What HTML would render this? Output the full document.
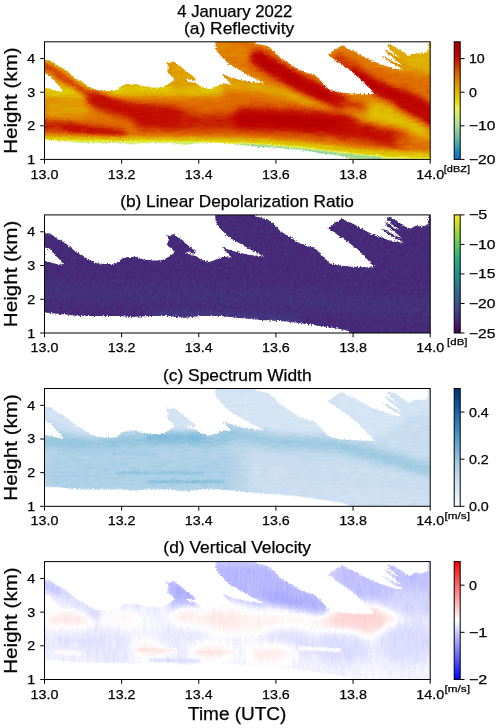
<!DOCTYPE html><html><head><meta charset="utf-8"><style>html,body{margin:0;padding:0;background:#fff;width:500px;height:728px;overflow:hidden}svg{display:block;will-change:transform}text{font-family:"Liberation Sans",sans-serif;fill:#000;stroke:#000;stroke-width:0.25px}</style></head><body>
<svg width="500" height="728" viewBox="0 0 500 728">
<rect width="500" height="728" fill="#fff"/>
<defs><linearGradient id="cbA" x1="0" y1="1" x2="0" y2="0"><stop offset="0.0000" stop-color="rgb(8,112,208)"/><stop offset="0.0312" stop-color="rgb(17,121,199)"/><stop offset="0.0625" stop-color="rgb(30,138,191)"/><stop offset="0.0938" stop-color="rgb(43,154,183)"/><stop offset="0.1250" stop-color="rgb(64,167,174)"/><stop offset="0.1562" stop-color="rgb(85,179,167)"/><stop offset="0.1875" stop-color="rgb(107,190,163)"/><stop offset="0.2188" stop-color="rgb(129,200,160)"/><stop offset="0.2500" stop-color="rgb(146,209,154)"/><stop offset="0.2812" stop-color="rgb(164,218,148)"/><stop offset="0.3125" stop-color="rgb(180,226,140)"/><stop offset="0.3438" stop-color="rgb(193,232,127)"/><stop offset="0.3750" stop-color="rgb(206,239,114)"/><stop offset="0.4062" stop-color="rgb(223,240,97)"/><stop offset="0.4375" stop-color="rgb(239,239,76)"/><stop offset="0.4688" stop-color="rgb(234,227,41)"/><stop offset="0.5000" stop-color="rgb(228,215,18)"/><stop offset="0.5312" stop-color="rgb(224,203,0)"/><stop offset="0.5625" stop-color="rgb(224,188,0)"/><stop offset="0.5938" stop-color="rgb(224,173,0)"/><stop offset="0.6250" stop-color="rgb(224,156,0)"/><stop offset="0.6562" stop-color="rgb(224,139,0)"/><stop offset="0.6875" stop-color="rgb(224,122,0)"/><stop offset="0.7188" stop-color="rgb(222,104,0)"/><stop offset="0.7500" stop-color="rgb(217,84,0)"/><stop offset="0.7812" stop-color="rgb(209,66,0)"/><stop offset="0.8125" stop-color="rgb(202,47,0)"/><stop offset="0.8438" stop-color="rgb(198,25,0)"/><stop offset="0.8750" stop-color="rgb(192,11,0)"/><stop offset="0.9062" stop-color="rgb(186,2,0)"/><stop offset="0.9375" stop-color="rgb(178,0,0)"/><stop offset="0.9688" stop-color="rgb(169,0,0)"/><stop offset="1.0000" stop-color="rgb(160,0,0)"/></linearGradient><filter id="cm0" x="0" y="0" width="500" height="728" filterUnits="userSpaceOnUse" color-interpolation-filters="sRGB"><feTurbulence type="fractalNoise" baseFrequency="0.08 0.5" numOctaves="2" seed="2" result="tn"/><feColorMatrix in="tn" type="matrix" values="1 0 0 0 0 1 0 0 0 0 1 0 0 0 0 0 0 0 0 1" result="tg"/><feComposite in="SourceGraphic" in2="tg" operator="arithmetic" k1="0" k2="1" k3="0.08" k4="-0.04" result="sn"/><feComponentTransfer><feFuncR type="table" tableValues="0.031 0.049 0.067 0.091 0.116 0.140 0.170 0.211 0.252 0.293 0.335 0.378 0.421 0.463 0.505 0.540 0.574 0.608 0.643 0.677 0.706 0.731 0.757 0.782 0.808 0.840 0.876 0.912 0.939 0.927 0.916 0.905 0.896 0.886 0.878 0.878 0.878 0.878 0.878 0.878 0.878 0.878 0.878 0.878 0.878 0.878 0.870 0.861 0.851 0.838 0.821 0.803 0.793 0.785 0.776 0.767 0.754 0.741 0.728 0.713 0.696 0.679 0.662 0.645 0.627"/><feFuncG type="table" tableValues="0.439 0.456 0.476 0.509 0.542 0.574 0.604 0.629 0.653 0.678 0.701 0.722 0.744 0.765 0.786 0.803 0.820 0.838 0.855 0.872 0.886 0.899 0.912 0.924 0.937 0.941 0.941 0.941 0.936 0.914 0.891 0.867 0.844 0.820 0.795 0.767 0.738 0.708 0.677 0.645 0.612 0.578 0.545 0.511 0.478 0.445 0.407 0.369 0.331 0.295 0.261 0.226 0.185 0.142 0.100 0.060 0.043 0.026 0.009 0.000 0.000 0.000 0.000 0.000 0.000"/><feFuncB type="table" tableValues="0.816 0.799 0.782 0.765 0.749 0.732 0.716 0.700 0.683 0.667 0.655 0.648 0.641 0.634 0.626 0.615 0.603 0.592 0.581 0.569 0.549 0.524 0.498 0.473 0.447 0.415 0.379 0.342 0.300 0.231 0.162 0.108 0.070 0.032 0.000 0.000 0.000 0.000 0.000 0.000 0.000 0.000 0.000 0.000 0.000 0.000 0.000 0.000 0.000 0.000 0.000 0.000 0.000 0.000 0.000 0.000 0.000 0.000 0.000 0.000 0.000 0.000 0.000 0.000 0.000"/></feComponentTransfer></filter><linearGradient id="cbB" x1="0" y1="1" x2="0" y2="0"><stop offset="0.0000" stop-color="rgb(68,1,84)"/><stop offset="0.0312" stop-color="rgb(69,12,94)"/><stop offset="0.0625" stop-color="rgb(70,23,105)"/><stop offset="0.0938" stop-color="rgb(72,34,115)"/><stop offset="0.1250" stop-color="rgb(70,44,122)"/><stop offset="0.1562" stop-color="rgb(68,54,127)"/><stop offset="0.1875" stop-color="rgb(66,64,133)"/><stop offset="0.2188" stop-color="rgb(63,73,136)"/><stop offset="0.2500" stop-color="rgb(59,82,138)"/><stop offset="0.2812" stop-color="rgb(55,90,140)"/><stop offset="0.3125" stop-color="rgb(52,98,141)"/><stop offset="0.3438" stop-color="rgb(48,106,141)"/><stop offset="0.3750" stop-color="rgb(45,114,142)"/><stop offset="0.4062" stop-color="rgb(41,122,142)"/><stop offset="0.4375" stop-color="rgb(39,129,141)"/><stop offset="0.4688" stop-color="rgb(36,137,141)"/><stop offset="0.5000" stop-color="rgb(33,145,140)"/><stop offset="0.5312" stop-color="rgb(33,152,138)"/><stop offset="0.5625" stop-color="rgb(34,159,135)"/><stop offset="0.5938" stop-color="rgb(34,167,132)"/><stop offset="0.6250" stop-color="rgb(43,174,127)"/><stop offset="0.6562" stop-color="rgb(53,181,121)"/><stop offset="0.6875" stop-color="rgb(64,188,114)"/><stop offset="0.7188" stop-color="rgb(78,194,106)"/><stop offset="0.7500" stop-color="rgb(95,200,96)"/><stop offset="0.7812" stop-color="rgb(112,206,87)"/><stop offset="0.8125" stop-color="rgb(130,211,76)"/><stop offset="0.8438" stop-color="rgb(151,215,62)"/><stop offset="0.8750" stop-color="rgb(172,219,49)"/><stop offset="0.9062" stop-color="rgb(193,224,38)"/><stop offset="0.9375" stop-color="rgb(213,226,38)"/><stop offset="0.9688" stop-color="rgb(233,228,37)"/><stop offset="1.0000" stop-color="rgb(253,231,37)"/></linearGradient><filter id="cm1" x="0" y="0" width="500" height="728" filterUnits="userSpaceOnUse" color-interpolation-filters="sRGB"><feTurbulence type="fractalNoise" baseFrequency="0.3 0.3" numOctaves="2" seed="2" result="tn"/><feColorMatrix in="tn" type="matrix" values="1 0 0 0 0 1 0 0 0 0 1 0 0 0 0 0 0 0 0 1" result="tg"/><feComposite in="SourceGraphic" in2="tg" operator="arithmetic" k1="0" k2="1" k3="0.1" k4="-0.05" result="sn"/><feComponentTransfer><feFuncR type="table" tableValues="0.267 0.269 0.272 0.274 0.276 0.279 0.281 0.280 0.275 0.271 0.267 0.263 0.258 0.253 0.246 0.239 0.231 0.224 0.217 0.209 0.202 0.196 0.189 0.182 0.175 0.169 0.163 0.157 0.151 0.146 0.140 0.135 0.129 0.130 0.131 0.131 0.132 0.132 0.133 0.146 0.167 0.188 0.208 0.229 0.250 0.273 0.306 0.339 0.373 0.406 0.439 0.472 0.511 0.552 0.593 0.634 0.675 0.717 0.757 0.796 0.835 0.875 0.914 0.953 0.992"/><feFuncG type="table" tableValues="0.004 0.025 0.047 0.068 0.090 0.111 0.133 0.153 0.173 0.192 0.212 0.231 0.251 0.270 0.287 0.303 0.320 0.336 0.353 0.369 0.385 0.400 0.415 0.431 0.446 0.461 0.477 0.492 0.507 0.523 0.538 0.553 0.569 0.583 0.597 0.611 0.625 0.639 0.653 0.667 0.681 0.695 0.710 0.724 0.738 0.751 0.762 0.773 0.784 0.795 0.806 0.817 0.826 0.835 0.844 0.852 0.861 0.869 0.876 0.881 0.886 0.891 0.896 0.901 0.906"/><feFuncB type="table" tableValues="0.329 0.350 0.370 0.390 0.410 0.431 0.451 0.465 0.476 0.487 0.499 0.510 0.521 0.530 0.534 0.537 0.541 0.545 0.549 0.552 0.553 0.554 0.555 0.555 0.556 0.556 0.556 0.555 0.554 0.553 0.551 0.550 0.549 0.544 0.539 0.534 0.529 0.525 0.520 0.510 0.498 0.486 0.474 0.461 0.449 0.435 0.416 0.397 0.378 0.359 0.340 0.321 0.297 0.270 0.244 0.218 0.191 0.165 0.149 0.148 0.148 0.147 0.146 0.146 0.145"/></feComponentTransfer></filter><linearGradient id="cbC" x1="0" y1="1" x2="0" y2="0"><stop offset="0.0000" stop-color="rgb(247,251,255)"/><stop offset="0.0312" stop-color="rgb(241,247,253)"/><stop offset="0.0625" stop-color="rgb(235,243,251)"/><stop offset="0.0938" stop-color="rgb(228,239,249)"/><stop offset="0.1250" stop-color="rgb(222,235,247)"/><stop offset="0.1562" stop-color="rgb(216,231,245)"/><stop offset="0.1875" stop-color="rgb(210,227,243)"/><stop offset="0.2188" stop-color="rgb(204,223,241)"/><stop offset="0.2500" stop-color="rgb(198,219,239)"/><stop offset="0.2812" stop-color="rgb(188,215,236)"/><stop offset="0.3125" stop-color="rgb(178,210,232)"/><stop offset="0.3438" stop-color="rgb(168,206,228)"/><stop offset="0.3750" stop-color="rgb(158,202,225)"/><stop offset="0.4062" stop-color="rgb(145,195,222)"/><stop offset="0.4375" stop-color="rgb(132,188,220)"/><stop offset="0.4688" stop-color="rgb(120,181,217)"/><stop offset="0.5000" stop-color="rgb(107,174,214)"/><stop offset="0.5312" stop-color="rgb(97,167,210)"/><stop offset="0.5625" stop-color="rgb(86,160,206)"/><stop offset="0.5938" stop-color="rgb(76,153,202)"/><stop offset="0.6250" stop-color="rgb(66,146,198)"/><stop offset="0.6562" stop-color="rgb(58,138,194)"/><stop offset="0.6875" stop-color="rgb(50,130,190)"/><stop offset="0.7188" stop-color="rgb(41,121,185)"/><stop offset="0.7500" stop-color="rgb(33,113,181)"/><stop offset="0.7812" stop-color="rgb(27,105,175)"/><stop offset="0.8125" stop-color="rgb(20,97,169)"/><stop offset="0.8438" stop-color="rgb(14,89,162)"/><stop offset="0.8750" stop-color="rgb(8,81,156)"/><stop offset="0.9062" stop-color="rgb(8,73,144)"/><stop offset="0.9375" stop-color="rgb(8,64,132)"/><stop offset="0.9688" stop-color="rgb(8,56,119)"/><stop offset="1.0000" stop-color="rgb(8,48,107)"/></linearGradient><filter id="cm2" x="0" y="0" width="500" height="728" filterUnits="userSpaceOnUse" color-interpolation-filters="sRGB"><feTurbulence type="fractalNoise" baseFrequency="0.1 0.5" numOctaves="2" seed="2" result="tn"/><feColorMatrix in="tn" type="matrix" values="1 0 0 0 0 1 0 0 0 0 1 0 0 0 0 0 0 0 0 1" result="tg"/><feComposite in="SourceGraphic" in2="tg" operator="arithmetic" k1="0" k2="1" k3="0.1" k4="-0.05" result="sn"/><feComponentTransfer><feFuncR type="table" tableValues="0.969 0.956 0.944 0.932 0.920 0.907 0.895 0.883 0.871 0.859 0.847 0.835 0.824 0.812 0.800 0.788 0.776 0.757 0.737 0.718 0.698 0.678 0.659 0.639 0.620 0.595 0.570 0.545 0.520 0.495 0.470 0.445 0.420 0.400 0.379 0.359 0.339 0.319 0.299 0.279 0.259 0.243 0.226 0.210 0.194 0.178 0.162 0.146 0.129 0.117 0.105 0.093 0.080 0.068 0.056 0.044 0.031 0.031 0.031 0.031 0.031 0.031 0.031 0.031 0.031"/><feFuncG type="table" tableValues="0.984 0.976 0.969 0.961 0.953 0.945 0.937 0.929 0.922 0.914 0.906 0.898 0.890 0.882 0.875 0.867 0.859 0.850 0.842 0.834 0.825 0.817 0.809 0.800 0.792 0.778 0.765 0.751 0.737 0.724 0.710 0.696 0.682 0.669 0.655 0.641 0.627 0.614 0.600 0.586 0.573 0.556 0.540 0.524 0.508 0.492 0.475 0.459 0.443 0.427 0.412 0.396 0.380 0.365 0.349 0.333 0.318 0.301 0.285 0.269 0.253 0.237 0.221 0.204 0.188"/><feFuncB type="table" tableValues="1.000 0.996 0.992 0.988 0.984 0.980 0.976 0.973 0.969 0.965 0.961 0.957 0.953 0.949 0.945 0.941 0.937 0.930 0.924 0.917 0.910 0.903 0.896 0.889 0.882 0.877 0.872 0.866 0.861 0.855 0.850 0.845 0.839 0.831 0.824 0.816 0.808 0.800 0.792 0.784 0.776 0.768 0.760 0.751 0.743 0.735 0.726 0.718 0.710 0.698 0.685 0.673 0.661 0.649 0.636 0.624 0.612 0.588 0.564 0.540 0.516 0.492 0.468 0.444 0.420"/></feComponentTransfer></filter><linearGradient id="cbD" x1="0" y1="1" x2="0" y2="0"><stop offset="0.0000" stop-color="rgb(0,0,255)"/><stop offset="0.0312" stop-color="rgb(16,16,255)"/><stop offset="0.0625" stop-color="rgb(32,32,255)"/><stop offset="0.0938" stop-color="rgb(48,48,255)"/><stop offset="0.1250" stop-color="rgb(64,64,255)"/><stop offset="0.1562" stop-color="rgb(80,80,255)"/><stop offset="0.1875" stop-color="rgb(96,96,255)"/><stop offset="0.2188" stop-color="rgb(112,112,255)"/><stop offset="0.2500" stop-color="rgb(128,128,255)"/><stop offset="0.2812" stop-color="rgb(143,143,255)"/><stop offset="0.3125" stop-color="rgb(159,159,255)"/><stop offset="0.3438" stop-color="rgb(175,175,255)"/><stop offset="0.3750" stop-color="rgb(191,191,255)"/><stop offset="0.4062" stop-color="rgb(207,207,255)"/><stop offset="0.4375" stop-color="rgb(223,223,255)"/><stop offset="0.4688" stop-color="rgb(239,239,255)"/><stop offset="0.5000" stop-color="rgb(255,255,255)"/><stop offset="0.5312" stop-color="rgb(255,239,239)"/><stop offset="0.5625" stop-color="rgb(255,223,223)"/><stop offset="0.5938" stop-color="rgb(255,207,207)"/><stop offset="0.6250" stop-color="rgb(255,191,191)"/><stop offset="0.6562" stop-color="rgb(255,175,175)"/><stop offset="0.6875" stop-color="rgb(255,159,159)"/><stop offset="0.7188" stop-color="rgb(255,143,143)"/><stop offset="0.7500" stop-color="rgb(255,128,128)"/><stop offset="0.7812" stop-color="rgb(255,112,112)"/><stop offset="0.8125" stop-color="rgb(255,96,96)"/><stop offset="0.8438" stop-color="rgb(255,80,80)"/><stop offset="0.8750" stop-color="rgb(255,64,64)"/><stop offset="0.9062" stop-color="rgb(255,48,48)"/><stop offset="0.9375" stop-color="rgb(255,32,32)"/><stop offset="0.9688" stop-color="rgb(255,16,16)"/><stop offset="1.0000" stop-color="rgb(255,0,0)"/></linearGradient><filter id="cm3" x="0" y="0" width="500" height="728" filterUnits="userSpaceOnUse" color-interpolation-filters="sRGB"><feTurbulence type="fractalNoise" baseFrequency="0.6 0.06" numOctaves="2" seed="2" result="tn"/><feColorMatrix in="tn" type="matrix" values="1 0 0 0 0 1 0 0 0 0 1 0 0 0 0 0 0 0 0 1" result="tg"/><feComposite in="SourceGraphic" in2="tg" operator="arithmetic" k1="0" k2="1" k3="0.06" k4="-0.03" result="sn"/><feComponentTransfer><feFuncR type="table" tableValues="0.000 0.031 0.062 0.094 0.125 0.156 0.188 0.219 0.250 0.281 0.312 0.344 0.375 0.406 0.438 0.469 0.500 0.531 0.562 0.594 0.625 0.656 0.688 0.719 0.750 0.781 0.812 0.844 0.875 0.906 0.938 0.969 1.000 1.000 1.000 1.000 1.000 1.000 1.000 1.000 1.000 1.000 1.000 1.000 1.000 1.000 1.000 1.000 1.000 1.000 1.000 1.000 1.000 1.000 1.000 1.000 1.000 1.000 1.000 1.000 1.000 1.000 1.000 1.000 1.000"/><feFuncG type="table" tableValues="0.000 0.031 0.062 0.094 0.125 0.156 0.188 0.219 0.250 0.281 0.312 0.344 0.375 0.406 0.438 0.469 0.500 0.531 0.562 0.594 0.625 0.656 0.688 0.719 0.750 0.781 0.812 0.844 0.875 0.906 0.938 0.969 1.000 0.969 0.938 0.906 0.875 0.844 0.812 0.781 0.750 0.719 0.688 0.656 0.625 0.594 0.562 0.531 0.500 0.469 0.438 0.406 0.375 0.344 0.312 0.281 0.250 0.219 0.188 0.156 0.125 0.094 0.062 0.031 0.000"/><feFuncB type="table" tableValues="1.000 1.000 1.000 1.000 1.000 1.000 1.000 1.000 1.000 1.000 1.000 1.000 1.000 1.000 1.000 1.000 1.000 1.000 1.000 1.000 1.000 1.000 1.000 1.000 1.000 1.000 1.000 1.000 1.000 1.000 1.000 1.000 1.000 0.969 0.938 0.906 0.875 0.844 0.812 0.781 0.750 0.719 0.688 0.656 0.625 0.594 0.562 0.531 0.500 0.469 0.438 0.406 0.375 0.344 0.312 0.281 0.250 0.219 0.188 0.156 0.125 0.094 0.062 0.031 0.000"/></feComponentTransfer></filter><clipPath id="m0"><path clip-rule="evenodd" d="M38.0,58.9 L50.4,60.5 L56.8,65.3 L63.2,68.5 L69.6,73.3 L76.0,78.9 L82.4,82.1 L88.8,86.9 L96.8,90.1 L104.8,90.9 L112.8,90.9 L117.2,89.9 L122.0,85.7 L128.0,83.9 L136.4,83.9 L143.6,86.3 L152.0,87.5 L160.4,87.5 L165.0,85.9 L170.0,82.9 L174.0,79.9 L173.0,76.9 L168.0,72.9 L167.0,69.9 L169.0,66.9 L166.0,61.9 L170.0,62.9 L173.0,60.9 L176.0,62.9 L180.0,65.9 L185.0,69.9 L190.0,73.9 L194.0,76.9 L196.0,78.9 L193.0,80.4 L188.0,78.9 L186.0,79.4 L190.0,81.9 L196.0,82.9 L200.0,85.9 L205.0,87.9 L210.0,88.9 L216.0,86.5 L224.0,83.3 L232.0,84.9 L226.0,78.9 L221.6,73.7 L232.0,77.7 L248.0,81.7 L264.4,83.4 L251.2,76.9 L240.0,70.5 L228.8,64.1 L220.8,56.1 L216.0,49.7 L215.2,43.3 L215.2,34.9 L250.0,34.9 L256.4,43.7 L267.6,46.1 L274.0,50.9 L280.4,58.1 L288.4,62.9 L298.0,69.3 L307.6,73.3 L314.0,74.1 L320.4,80.5 L324.8,85.3 L329.6,90.1 L339.2,92.5 L352.0,93.6 L364.8,94.1 L374.4,94.1 L366.4,85.3 L358.4,77.3 L348.8,69.3 L339.2,62.9 L328.0,54.9 L335.2,49.3 L342.4,45.3 L347.2,48.5 L353.6,50.9 L363.2,56.5 L372.8,61.3 L384.0,65.3 L393.6,68.5 L404.0,69.7 L396.0,65.9 L388.0,60.9 L381.6,55.9 L384.0,56.4 L394.0,61.9 L402.0,65.4 L396.0,59.9 L388.0,53.9 L384.8,49.5 L387.0,49.9 L394.0,54.9 L400.0,57.9 L393.6,52.7 L387.2,46.3 L387.2,43.9 L392.0,45.5 L396.8,47.9 L401.6,51.1 L406.4,54.3 L409.6,55.9 L416.0,52.7 L420.8,53.5 L426.4,52.3 L428.6,50.1 L428.0,43.4 L437.0,34.9 L437.0,166.9 L350.0,166.9 L349.0,157.9 L336.0,155.2 L320.0,152.9 L300.0,149.9 L280.0,147.9 L260.0,146.9 L240.0,144.9 L220.0,142.9 L200.0,142.9 L184.0,144.9 L170.0,142.9 L150.0,142.9 L130.0,143.9 L120.0,142.9 L100.0,142.9 L80.0,142.9 L60.0,140.9 L38.0,138.9 Z M44.5,74.1 L50.4,76.5 L55.2,82.1 L60.0,86.9 L63.2,90.9 L60.0,91.7 L53.6,90.1 L47.2,88.5 L44.5,87.7 Z"/></clipPath><clipPath id="ax0"><rect x="44.5" y="41.8" width="385.7" height="117.60000000000001"/></clipPath><clipPath id="m1"><path clip-rule="evenodd" d="M38.0,232.0 L50.4,233.6 L56.8,238.4 L63.2,241.6 L69.6,246.4 L76.0,252.0 L82.4,255.2 L88.8,260.0 L96.8,263.2 L104.8,264.0 L112.8,264.0 L117.2,263.0 L122.0,258.8 L128.0,257.0 L136.4,257.0 L143.6,259.4 L152.0,260.6 L160.4,260.6 L165.0,259.0 L170.0,256.0 L174.0,253.0 L173.0,250.0 L168.0,246.0 L167.0,243.0 L169.0,240.0 L166.0,235.0 L170.0,236.0 L173.0,234.0 L176.0,236.0 L180.0,239.0 L185.0,243.0 L190.0,247.0 L194.0,250.0 L196.0,252.0 L193.0,253.5 L188.0,252.0 L186.0,252.5 L190.0,255.0 L196.0,256.0 L200.0,259.0 L205.0,261.0 L210.0,262.0 L216.0,259.6 L224.0,256.4 L232.0,258.0 L226.0,252.0 L221.6,246.8 L232.0,250.8 L248.0,254.8 L264.4,256.5 L251.2,250.0 L240.0,243.6 L228.8,237.2 L220.8,229.2 L216.0,222.8 L215.2,216.4 L215.2,208.0 L250.0,208.0 L256.4,216.8 L267.6,219.2 L274.0,224.0 L280.4,231.2 L288.4,236.0 L298.0,242.4 L307.6,246.4 L314.0,247.2 L320.4,253.6 L324.8,258.4 L329.6,263.2 L339.2,265.6 L352.0,266.7 L364.8,267.2 L374.4,267.2 L366.4,258.4 L358.4,250.4 L348.8,242.4 L339.2,236.0 L328.0,228.0 L335.2,222.4 L342.4,218.4 L347.2,221.6 L353.6,224.0 L363.2,229.6 L372.8,234.4 L384.0,238.4 L393.6,241.6 L404.0,242.8 L396.0,239.0 L388.0,234.0 L381.6,229.0 L384.0,229.5 L394.0,235.0 L402.0,238.5 L396.0,233.0 L388.0,227.0 L384.8,222.6 L387.0,223.0 L394.0,228.0 L400.0,231.0 L393.6,225.8 L387.2,219.4 L387.2,217.0 L392.0,218.6 L396.8,221.0 L401.6,224.2 L406.4,227.4 L409.6,229.0 L416.0,225.8 L420.8,226.6 L426.4,225.4 L428.6,223.2 L428.0,216.5 L437.0,208.0 L437.0,340.0 L350.0,340.0 L349.0,331.0 L336.0,328.3 L320.0,326.0 L300.0,323.0 L280.0,321.0 L260.0,320.0 L240.0,318.0 L220.0,316.0 L200.0,316.0 L184.0,318.0 L170.0,316.0 L150.0,316.0 L130.0,317.0 L120.0,316.0 L100.0,316.0 L80.0,316.0 L60.0,314.0 L38.0,312.0 Z M44.5,247.2 L50.4,249.6 L55.2,255.2 L60.0,260.0 L63.2,264.0 L60.0,264.8 L53.6,263.2 L47.2,261.6 L44.5,260.8 Z"/></clipPath><clipPath id="ax1"><rect x="44.5" y="214.9" width="385.7" height="118.1"/></clipPath><clipPath id="m2"><path clip-rule="evenodd" d="M38.0,405.6 L50.4,407.2 L56.8,412.0 L63.2,415.2 L69.6,420.0 L76.0,425.6 L82.4,428.8 L88.8,433.6 L96.8,436.8 L104.8,437.6 L112.8,437.6 L117.2,436.6 L122.0,432.4 L128.0,430.6 L136.4,430.6 L143.6,433.0 L152.0,434.2 L160.4,434.2 L165.0,432.6 L170.0,429.6 L174.0,426.6 L173.0,423.6 L168.0,419.6 L167.0,416.6 L169.0,413.6 L166.0,408.6 L170.0,409.6 L173.0,407.6 L176.0,409.6 L180.0,412.6 L185.0,416.6 L190.0,420.6 L194.0,423.6 L196.0,425.6 L193.0,427.1 L188.0,425.6 L186.0,426.1 L190.0,428.6 L196.0,429.6 L200.0,432.6 L205.0,434.6 L210.0,435.6 L216.0,433.2 L224.0,430.0 L232.0,431.6 L226.0,425.6 L221.6,420.4 L232.0,424.4 L248.0,428.4 L264.4,430.1 L251.2,423.6 L240.0,417.2 L228.8,410.8 L220.8,402.8 L216.0,396.4 L215.2,390.0 L215.2,381.6 L250.0,381.6 L256.4,390.4 L267.6,392.8 L274.0,397.6 L280.4,404.8 L288.4,409.6 L298.0,416.0 L307.6,420.0 L314.0,420.8 L320.4,427.2 L324.8,432.0 L329.6,436.8 L339.2,439.2 L352.0,440.3 L364.8,440.8 L374.4,440.8 L366.4,432.0 L358.4,424.0 L348.8,416.0 L339.2,409.6 L328.0,401.6 L335.2,396.0 L342.4,392.0 L347.2,395.2 L353.6,397.6 L363.2,403.2 L372.8,408.0 L384.0,412.0 L393.6,415.2 L404.0,416.4 L396.0,412.6 L388.0,407.6 L381.6,402.6 L384.0,403.1 L394.0,408.6 L402.0,412.1 L396.0,406.6 L388.0,400.6 L384.8,396.2 L387.0,396.6 L394.0,401.6 L400.0,404.6 L393.6,399.4 L387.2,393.0 L387.2,390.6 L392.0,392.2 L396.8,394.6 L401.6,397.8 L406.4,401.0 L409.6,402.6 L416.0,399.4 L420.8,400.2 L426.4,399.0 L428.6,396.8 L428.0,390.1 L437.0,381.6 L437.0,513.6 L350.0,513.6 L349.0,504.6 L336.0,501.9 L320.0,499.6 L300.0,496.6 L280.0,494.6 L260.0,493.6 L240.0,491.6 L220.0,489.6 L200.0,489.6 L184.0,491.6 L170.0,489.6 L150.0,489.6 L130.0,490.6 L120.0,489.6 L100.0,489.6 L80.0,489.6 L60.0,487.6 L38.0,485.6 Z M44.5,420.8 L50.4,423.2 L55.2,428.8 L60.0,433.6 L63.2,437.6 L60.0,438.4 L53.6,436.8 L47.2,435.2 L44.5,434.4 Z"/></clipPath><clipPath id="ax2"><rect x="44.5" y="388.5" width="385.7" height="117.80000000000001"/></clipPath><clipPath id="m3"><path clip-rule="evenodd" d="M38.0,578.7 L50.4,580.3 L56.8,585.1 L63.2,588.3 L69.6,593.1 L76.0,598.7 L82.4,601.9 L88.8,606.7 L96.8,609.9 L104.8,610.7 L112.8,610.7 L117.2,609.7 L122.0,605.5 L128.0,603.7 L136.4,603.7 L143.6,606.1 L152.0,607.3 L160.4,607.3 L165.0,605.7 L170.0,602.7 L174.0,599.7 L173.0,596.7 L168.0,592.7 L167.0,589.7 L169.0,586.7 L166.0,581.7 L170.0,582.7 L173.0,580.7 L176.0,582.7 L180.0,585.7 L185.0,589.7 L190.0,593.7 L194.0,596.7 L196.0,598.7 L193.0,600.2 L188.0,598.7 L186.0,599.2 L190.0,601.7 L196.0,602.7 L200.0,605.7 L205.0,607.7 L210.0,608.7 L216.0,606.3 L224.0,603.1 L232.0,604.7 L226.0,598.7 L221.6,593.5 L232.0,597.5 L248.0,601.5 L264.4,603.2 L251.2,596.7 L240.0,590.3 L228.8,583.9 L220.8,575.9 L216.0,569.5 L215.2,563.1 L215.2,554.7 L250.0,554.7 L256.4,563.5 L267.6,565.9 L274.0,570.7 L280.4,577.9 L288.4,582.7 L298.0,589.1 L307.6,593.1 L314.0,593.9 L320.4,600.3 L324.8,605.1 L329.6,609.9 L339.2,612.3 L352.0,613.4 L364.8,613.9 L374.4,613.9 L366.4,605.1 L358.4,597.1 L348.8,589.1 L339.2,582.7 L328.0,574.7 L335.2,569.1 L342.4,565.1 L347.2,568.3 L353.6,570.7 L363.2,576.3 L372.8,581.1 L384.0,585.1 L393.6,588.3 L404.0,589.5 L396.0,585.7 L388.0,580.7 L381.6,575.7 L384.0,576.2 L394.0,581.7 L402.0,585.2 L396.0,579.7 L388.0,573.7 L384.8,569.3 L387.0,569.7 L394.0,574.7 L400.0,577.7 L393.6,572.5 L387.2,566.1 L387.2,563.7 L392.0,565.3 L396.8,567.7 L401.6,570.9 L406.4,574.1 L409.6,575.7 L416.0,572.5 L420.8,573.3 L426.4,572.1 L428.6,569.9 L428.0,563.2 L437.0,554.7 L437.0,686.7 L350.0,686.7 L349.0,677.7 L336.0,675.0 L320.0,672.7 L300.0,669.7 L280.0,667.7 L260.0,666.7 L240.0,664.7 L220.0,662.7 L200.0,662.7 L184.0,664.7 L170.0,662.7 L150.0,662.7 L130.0,663.7 L120.0,662.7 L100.0,662.7 L80.0,662.7 L60.0,660.7 L38.0,658.7 Z M44.5,593.9 L50.4,596.3 L55.2,601.9 L60.0,606.7 L63.2,610.7 L60.0,611.5 L53.6,609.9 L47.2,608.3 L44.5,607.5 Z"/></clipPath><clipPath id="ax3"><rect x="44.5" y="561.6" width="385.7" height="117.89999999999998"/></clipPath><filter id="b1" x="0" y="0" width="500" height="728" filterUnits="userSpaceOnUse" color-interpolation-filters="sRGB"><feGaussianBlur stdDeviation="1"/></filter><filter id="b2" x="0" y="0" width="500" height="728" filterUnits="userSpaceOnUse" color-interpolation-filters="sRGB"><feGaussianBlur stdDeviation="2"/></filter><filter id="b3" x="0" y="0" width="500" height="728" filterUnits="userSpaceOnUse" color-interpolation-filters="sRGB"><feGaussianBlur stdDeviation="3"/></filter><filter id="b4" x="0" y="0" width="500" height="728" filterUnits="userSpaceOnUse" color-interpolation-filters="sRGB"><feGaussianBlur stdDeviation="4"/></filter><filter id="b5" x="0" y="0" width="500" height="728" filterUnits="userSpaceOnUse" color-interpolation-filters="sRGB"><feGaussianBlur stdDeviation="5"/></filter><filter id="b6" x="0" y="0" width="500" height="728" filterUnits="userSpaceOnUse" color-interpolation-filters="sRGB"><feGaussianBlur stdDeviation="6"/></filter><filter id="b8" x="0" y="0" width="500" height="728" filterUnits="userSpaceOnUse" color-interpolation-filters="sRGB"><feGaussianBlur stdDeviation="8"/></filter><filter id="b10" x="0" y="0" width="500" height="728" filterUnits="userSpaceOnUse" color-interpolation-filters="sRGB"><feGaussianBlur stdDeviation="10"/></filter><filter id="rag" x="0" y="0" width="500" height="728" filterUnits="userSpaceOnUse" color-interpolation-filters="sRGB"><feTurbulence type="fractalNoise" baseFrequency="0.7 0.7" numOctaves="1" seed="7" result="rt"/><feDisplacementMap in="SourceGraphic" in2="rt" scale="4" xChannelSelector="R" yChannelSelector="G"/></filter></defs>
<g clip-path="url(#ax0)"><g filter="url(#rag)"><g clip-path="url(#m0)"><g filter="url(#cm0)"><rect x="36.5" y="33.8" width="401.7" height="133.60000000000002" fill="rgb(182,182,182)"/><path d="M38.0,58.9 L50.4,60.5 L56.8,65.3 L63.2,68.5 L69.6,73.3 L76.0,78.9 L82.4,82.1 L88.8,86.9 L96.8,90.1 L104.8,90.9 L112.8,90.9 L117.2,89.9 L122.0,85.7 L128.0,83.9 L136.4,83.9 L143.6,86.3 L152.0,87.5 L160.4,87.5 L165.0,85.9 L170.0,82.9 L174.0,79.9 L173.0,76.9 L168.0,72.9 L167.0,69.9 L169.0,66.9 L166.0,61.9 L170.0,62.9 L173.0,60.9 L176.0,62.9 L180.0,65.9 L185.0,69.9 L190.0,73.9 L194.0,76.9 L196.0,78.9 L193.0,80.4 L188.0,78.9 L186.0,79.4 L190.0,81.9 L196.0,82.9 L200.0,85.9 L205.0,87.9 L210.0,88.9 L216.0,86.5 L224.0,83.3 L232.0,84.9 L226.0,78.9 L221.6,73.7 L232.0,77.7 L248.0,81.7 L264.4,83.4 L251.2,76.9 L240.0,70.5 L228.8,64.1 L220.8,56.1 L216.0,49.7 L215.2,43.3 L215.2,34.9 L250.0,34.9 L256.4,43.7 L267.6,46.1 L274.0,50.9 L280.4,58.1 L288.4,62.9 L298.0,69.3 L307.6,73.3 L314.0,74.1 L320.4,80.5 L324.8,85.3 L329.6,90.1 L339.2,92.5 L352.0,93.6 L364.8,94.1 L374.4,94.1 L366.4,85.3 L358.4,77.3 L348.8,69.3 L339.2,62.9 L328.0,54.9 L335.2,49.3 L342.4,45.3 L347.2,48.5 L353.6,50.9 L363.2,56.5 L372.8,61.3 L384.0,65.3 L393.6,68.5 L404.0,69.7 L396.0,65.9 L388.0,60.9 L381.6,55.9 L384.0,56.4 L394.0,61.9 L402.0,65.4 L396.0,59.9 L388.0,53.9 L384.8,49.5 L387.0,49.9 L394.0,54.9 L400.0,57.9 L393.6,52.7 L387.2,46.3 L387.2,43.9 L392.0,45.5 L396.8,47.9 L401.6,51.1 L406.4,54.3 L409.6,55.9 L416.0,52.7 L420.8,53.5 L426.4,52.3 L428.6,50.1 L428.0,43.4 L437.0,34.9 L437.0,166.9 L350.0,166.9 L349.0,157.9 L336.0,155.2 L320.0,152.9 L300.0,149.9 L280.0,147.9 L260.0,146.9 L240.0,144.9 L220.0,142.9 L200.0,142.9 L184.0,144.9 L170.0,142.9 L150.0,142.9 L130.0,143.9 L120.0,142.9 L100.0,142.9 L80.0,142.9 L60.0,140.9 L38.0,138.9 Z M44.5,74.1 L50.4,76.5 L55.2,82.1 L60.0,86.9 L63.2,90.9 L60.0,91.7 L53.6,90.1 L47.2,88.5 L44.5,87.7 Z" fill="none" stroke="rgb(168,168,168)" stroke-width="5" opacity="1" filter="url(#b2)"/><polyline points="40.0,91.0 90.0,93.0 120.0,90.0 144.0,89.0 200.0,89.0 218.0,89.0" fill="none" stroke="rgb(138,138,138)" stroke-width="14" stroke-linecap="round" stroke-linejoin="round" opacity="1" filter="url(#b3)"/><polygon points="44.0,100.0 90.0,100.0 96.0,110.0 80.0,118.0 44.0,118.0" fill="rgb(157,157,157)" opacity="1" filter="url(#b4)"/><polyline points="230.0,85.0 264.0,88.0 284.0,93.0 304.0,99.0 344.0,106.0 386.0,118.0" fill="none" stroke="rgb(153,153,153)" stroke-width="10" stroke-linecap="round" stroke-linejoin="round" opacity="1" filter="url(#b3)"/><polygon points="322.0,96.0 349.0,96.0 404.0,108.0 432.0,118.0 432.0,148.0 404.0,132.0 370.0,124.0 349.0,112.0 322.0,106.0" fill="rgb(142,142,142)" opacity="1" filter="url(#b5)"/><polygon points="384.0,38.0 436.0,38.0 436.0,76.0 405.0,70.0" fill="rgb(149,149,149)" opacity="1" filter="url(#b4)"/><polygon points="166.0,58.0 198.0,68.0 198.0,88.0 170.0,90.0" fill="rgb(157,157,157)" opacity="1" filter="url(#b3)"/><polyline points="40.0,64.0 50.0,67.0 64.0,76.0 84.0,90.0 94.0,96.0 104.0,102.0" fill="none" stroke="rgb(200,200,200)" stroke-width="9" stroke-linecap="round" stroke-linejoin="round" opacity="1" filter="url(#b2)"/><polyline points="40.0,58.5 50.4,60.5 56.8,65.3 63.2,68.5 69.6,73.3 76.0,78.9 82.4,82.1 88.8,86.9 96.8,90.1" fill="none" stroke="rgb(146,146,146)" stroke-width="5" stroke-linecap="round" stroke-linejoin="round" opacity="1" filter="url(#b2)"/><polyline points="40.0,74.0 50.4,76.5 55.2,82.1 60.0,87.0" fill="none" stroke="rgb(153,153,153)" stroke-width="4" stroke-linecap="round" stroke-linejoin="round" opacity="1" filter="url(#b2)"/><polyline points="94.0,99.0 120.0,108.0 144.0,113.0 172.0,117.0" fill="none" stroke="rgb(222,222,222)" stroke-width="16" stroke-linecap="round" stroke-linejoin="round" opacity="1" filter="url(#b3)"/><polyline points="144.0,118.0 178.0,119.0" fill="none" stroke="rgb(222,222,222)" stroke-width="22" stroke-linecap="round" stroke-linejoin="round" opacity="1" filter="url(#b4)"/><polyline points="185.0,122.0 235.0,122.0" fill="none" stroke="rgb(215,215,215)" stroke-width="16" stroke-linecap="round" stroke-linejoin="round" opacity="1" filter="url(#b4)"/><polyline points="244.0,119.0 294.0,121.0 344.0,125.0" fill="none" stroke="rgb(233,233,233)" stroke-width="22" stroke-linecap="round" stroke-linejoin="round" opacity="1" filter="url(#b4)"/><polyline points="344.0,128.0 377.0,135.0 400.0,140.0" fill="none" stroke="rgb(222,222,222)" stroke-width="18" stroke-linecap="round" stroke-linejoin="round" opacity="1" filter="url(#b4)"/><polyline points="400.0,141.0 432.0,147.0" fill="none" stroke="rgb(182,182,182)" stroke-width="12" stroke-linecap="round" stroke-linejoin="round" opacity="1" filter="url(#b4)"/><polyline points="40.0,125.0 70.0,127.0" fill="none" stroke="rgb(219,219,219)" stroke-width="9" stroke-linecap="round" stroke-linejoin="round" opacity="1" filter="url(#b3)"/><polyline points="70.0,128.0 104.0,132.0 122.0,135.0" fill="none" stroke="rgb(226,226,226)" stroke-width="9" stroke-linecap="round" stroke-linejoin="round" opacity="1" filter="url(#b3)"/><polyline points="215.0,44.0 245.0,56.0" fill="none" stroke="rgb(168,168,168)" stroke-width="12" stroke-linecap="round" stroke-linejoin="round" opacity="1" filter="url(#b4)"/><polyline points="258.0,58.0 270.0,65.0 284.0,74.0 304.0,85.0 324.0,95.0 338.0,101.0" fill="none" stroke="rgb(233,233,233)" stroke-width="16" stroke-linecap="round" stroke-linejoin="round" opacity="1" filter="url(#b3)"/><polyline points="338.0,101.0 362.0,107.0" fill="none" stroke="rgb(211,211,211)" stroke-width="12" stroke-linecap="round" stroke-linejoin="round" opacity="1" filter="url(#b4)"/><polyline points="338.0,60.0 356.0,72.0" fill="none" stroke="rgb(204,204,204)" stroke-width="12" stroke-linecap="round" stroke-linejoin="round" opacity="1" filter="url(#b3)"/><polyline points="355.0,76.0 377.0,88.0 404.0,99.0 426.0,110.0 436.0,118.0" fill="none" stroke="rgb(233,233,233)" stroke-width="14" stroke-linecap="round" stroke-linejoin="round" opacity="1" filter="url(#b3)"/><polyline points="404.0,102.0 436.0,120.0" fill="none" stroke="rgb(226,226,226)" stroke-width="18" stroke-linecap="round" stroke-linejoin="round" opacity="1" filter="url(#b4)"/><polyline points="40.0,139.0 120.0,140.0 200.0,141.0 260.0,142.0 320.0,147.0 360.0,152.0 432.0,156.0" fill="none" stroke="rgb(131,131,131)" stroke-width="6" stroke-linecap="round" stroke-linejoin="round" opacity="1" filter="url(#b2)"/><polyline points="40.0,142.0 120.0,143.0 200.0,143.5 260.0,146.0 320.0,152.0 360.0,157.0 432.0,160.0" fill="none" stroke="rgb(80,80,80)" stroke-width="3" stroke-linecap="round" stroke-linejoin="round" opacity="1" filter="url(#b1)"/><polyline points="240.0,146.0 300.0,150.0 340.0,155.0 380.0,159.0" fill="none" stroke="rgb(66,66,66)" stroke-width="5" stroke-linecap="round" stroke-linejoin="round" opacity="1" filter="url(#b1)"/></g></g></g></g>
<g clip-path="url(#ax1)"><g filter="url(#rag)"><g clip-path="url(#m1)"><g filter="url(#cm1)"><rect x="36.5" y="206.9" width="401.7" height="134.1" fill="rgb(31,31,31)"/><polyline points="44.0,291.1 120.0,293.1 200.0,295.1 280.0,297.1 350.0,303.1 432.0,309.1" fill="none" stroke="rgb(37,37,37)" stroke-width="20" stroke-linecap="round" stroke-linejoin="round" opacity="1" filter="url(#b6)"/><polyline points="150.0,313.1 230.0,315.1 300.0,319.1" fill="none" stroke="rgb(48,48,48)" stroke-width="5" stroke-linecap="round" stroke-linejoin="round" opacity="1" filter="url(#b3)"/></g></g></g></g>
<g clip-path="url(#ax2)"><g filter="url(#rag)"><g clip-path="url(#m2)"><g filter="url(#cm2)"><rect x="36.5" y="380.5" width="401.7" height="133.8" fill="rgb(66,66,66)"/><polygon points="44.0,441.7 240.0,446.7 240.0,496.7 44.0,496.7" fill="rgb(84,84,84)" opacity="1" filter="url(#b10)"/><polygon points="250.0,454.7 432.0,481.7 432.0,506.7 250.0,506.7" fill="rgb(56,56,56)" opacity="1" filter="url(#b6)"/><polygon points="330.0,466.7 432.0,476.7 432.0,506.7 330.0,506.7" fill="rgb(51,51,51)" opacity="1" filter="url(#b8)"/><polygon points="212.0,387.7 262.0,387.7 300.0,408.7 330.0,426.7 336.0,436.7 300.0,434.7 260.0,428.7 230.0,420.7 212.0,408.7" fill="rgb(43,43,43)" opacity="1" filter="url(#b3)"/><polygon points="326.0,400.7 345.0,388.7 404.0,414.7 406.0,426.7 374.0,440.7 350.0,424.7" fill="rgb(43,43,43)" opacity="1" filter="url(#b3)"/><polygon points="380.0,388.7 432.0,388.7 432.0,416.7 406.0,418.7" fill="rgb(46,46,46)" opacity="1" filter="url(#b3)"/><polygon points="374.0,440.7 406.0,420.7 432.0,412.7 432.0,458.7 392.0,450.7" fill="rgb(59,59,59)" opacity="1" filter="url(#b4)"/><polyline points="40.0,408.7 70.0,424.7 96.0,440.7" fill="none" stroke="rgb(46,46,46)" stroke-width="11" stroke-linecap="round" stroke-linejoin="round" opacity="1" filter="url(#b3)"/><polygon points="164.0,404.7 198.0,414.7 198.0,434.7 170.0,438.7" fill="rgb(46,46,46)" opacity="1" filter="url(#b3)"/><polyline points="40.0,440.7 100.0,443.7 150.0,439.7 215.0,440.7 232.0,435.7" fill="none" stroke="rgb(105,105,105)" stroke-width="12" stroke-linecap="round" stroke-linejoin="round" opacity="1" filter="url(#b4)"/><polyline points="150.0,436.7 204.0,436.7" fill="none" stroke="rgb(117,117,117)" stroke-width="8" stroke-linecap="round" stroke-linejoin="round" opacity="1" filter="url(#b3)"/><polyline points="226.0,432.7 272.0,441.7 324.0,443.7 352.0,448.7 392.0,459.7 436.0,472.7" fill="none" stroke="rgb(99,99,99)" stroke-width="12" stroke-linecap="round" stroke-linejoin="round" opacity="1" filter="url(#b4)"/><polyline points="300.0,471.7 360.0,481.7 432.0,486.7" fill="none" stroke="rgb(61,61,61)" stroke-width="14" stroke-linecap="round" stroke-linejoin="round" opacity="1" filter="url(#b6)"/><polyline points="44.0,474.7 120.0,478.7" fill="none" stroke="rgb(84,84,84)" stroke-width="14" stroke-linecap="round" stroke-linejoin="round" opacity="1" filter="url(#b6)"/><polyline points="112.0,453.7 156.0,453.7" fill="none" stroke="rgb(102,102,102)" stroke-width="1.5" stroke-linecap="round" stroke-linejoin="round" opacity="1" filter="url(#b1)"/><polyline points="116.0,472.7 204.0,472.7" fill="none" stroke="rgb(122,122,122)" stroke-width="1.5" stroke-linecap="round" stroke-linejoin="round" opacity="1" filter="url(#b1)"/><polyline points="148.0,481.7 224.0,481.7" fill="none" stroke="rgb(133,133,133)" stroke-width="1.8" stroke-linecap="round" stroke-linejoin="round" opacity="1" filter="url(#b1)"/></g></g></g></g>
<g clip-path="url(#ax3)"><g filter="url(#rag)"><g clip-path="url(#m3)"><g filter="url(#cm3)"><rect x="36.5" y="553.6" width="401.7" height="133.89999999999998" fill="rgb(122,122,122)"/><polygon points="210.0,560.8 262.0,560.8 300.0,581.8 332.0,601.8 336.0,611.8 300.0,609.8 260.0,603.8 228.0,595.8 210.0,581.8" fill="rgb(92,92,92)" opacity="1" filter="url(#b4)"/><polygon points="326.0,573.8 345.0,561.8 404.0,587.8 406.0,599.8 374.0,613.8 350.0,597.8" fill="rgb(97,97,97)" opacity="1" filter="url(#b3)"/><polygon points="380.0,561.8 432.0,561.8 432.0,615.8 406.0,599.8" fill="rgb(97,97,97)" opacity="1" filter="url(#b3)"/><polyline points="40.0,581.8 70.0,597.8 96.0,613.8" fill="none" stroke="rgb(99,99,99)" stroke-width="11" stroke-linecap="round" stroke-linejoin="round" opacity="1" filter="url(#b3)"/><polyline points="270.0,594.8 300.0,605.8 330.0,613.8" fill="none" stroke="rgb(84,84,84)" stroke-width="10" stroke-linecap="round" stroke-linejoin="round" opacity="1" filter="url(#b4)"/><polyline points="222.0,593.8 248.0,600.8 264.0,603.8" fill="none" stroke="rgb(105,105,105)" stroke-width="5" stroke-linecap="round" stroke-linejoin="round" opacity="1" filter="url(#b2)"/><polygon points="164.0,577.8 198.0,587.8 198.0,607.8 170.0,611.8" fill="rgb(89,89,89)" opacity="1" filter="url(#b3)"/><ellipse cx="68.0" cy="620.0000000000001" rx="22.0" ry="12.0" fill="rgb(142,142,142)" filter="url(#b6)"/><ellipse cx="120.0" cy="619.0000000000001" rx="22.0" ry="9.0" fill="rgb(136,136,136)" filter="url(#b6)"/><ellipse cx="186.0" cy="618.0000000000001" rx="16.0" ry="12.0" fill="rgb(139,139,139)" filter="url(#b6)"/><ellipse cx="224.0" cy="620.0000000000001" rx="26.0" ry="12.0" fill="rgb(140,140,140)" filter="url(#b6)"/><ellipse cx="278.0" cy="624.0000000000001" rx="52.0" ry="12.0" fill="rgb(135,135,135)" filter="url(#b6)"/><ellipse cx="364.0" cy="620.0000000000001" rx="42.0" ry="16.0" fill="rgb(149,149,149)" filter="url(#b6)"/><ellipse cx="107.0" cy="602.0000000000001" rx="69.0" ry="8.0" fill="rgb(117,117,117)" filter="url(#b6)"/><ellipse cx="64.0" cy="642.0000000000001" rx="26.0" ry="14.0" fill="rgb(117,117,117)" filter="url(#b6)"/><ellipse cx="104.0" cy="642.0000000000001" rx="26.0" ry="14.0" fill="rgb(115,115,115)" filter="url(#b6)"/><ellipse cx="180.0" cy="640.0000000000001" rx="26.0" ry="14.0" fill="rgb(117,117,117)" filter="url(#b6)"/><ellipse cx="288.0" cy="644.0000000000001" rx="30.0" ry="16.0" fill="rgb(112,112,112)" filter="url(#b6)"/><ellipse cx="342.0" cy="648.0000000000001" rx="28.0" ry="16.0" fill="rgb(110,110,110)" filter="url(#b6)"/><ellipse cx="408.0" cy="642.0000000000001" rx="30.0" ry="22.0" fill="rgb(110,110,110)" filter="url(#b6)"/><ellipse cx="411.0" cy="602.5000000000001" rx="27.0" ry="14.5" fill="rgb(107,107,107)" filter="url(#b6)"/><ellipse cx="148.0" cy="650.0000000000001" rx="18.0" ry="8.0" fill="rgb(139,139,139)" filter="url(#b6)"/><ellipse cx="210.0" cy="652.0000000000001" rx="20.0" ry="8.0" fill="rgb(140,140,140)" filter="url(#b6)"/><ellipse cx="272.0" cy="654.0000000000001" rx="26.0" ry="10.0" fill="rgb(138,138,138)" filter="url(#b6)"/><ellipse cx="115.0" cy="656.0000000000001" rx="21.0" ry="8.0" fill="rgb(115,115,115)" filter="url(#b6)"/><polyline points="56.0,652.0 80.0,653.0" fill="none" stroke="rgb(143,143,143)" stroke-width="2" stroke-linecap="round" stroke-linejoin="round" opacity="1" filter="url(#b1)"/><polyline points="136.0,650.0 176.0,651.0" fill="none" stroke="rgb(145,145,145)" stroke-width="2.5" stroke-linecap="round" stroke-linejoin="round" opacity="1" filter="url(#b1)"/><polyline points="196.0,653.0 236.0,652.0" fill="none" stroke="rgb(143,143,143)" stroke-width="2" stroke-linecap="round" stroke-linejoin="round" opacity="1" filter="url(#b1)"/><polyline points="300.0,648.0 340.0,650.0" fill="none" stroke="rgb(143,143,143)" stroke-width="2" stroke-linecap="round" stroke-linejoin="round" opacity="1" filter="url(#b1)"/><polyline points="60.0,640.0 100.0,641.0" fill="none" stroke="rgb(112,112,112)" stroke-width="3" stroke-linecap="round" stroke-linejoin="round" opacity="1" filter="url(#b1)"/><polyline points="150.0,660.0 200.0,661.0" fill="none" stroke="rgb(110,110,110)" stroke-width="3" stroke-linecap="round" stroke-linejoin="round" opacity="1" filter="url(#b1)"/></g></g></g></g>
<rect x="44.5" y="41.8" width="385.7" height="117.60000000000001" fill="none" stroke="#000" stroke-width="1"/>
<line x1="44.50" y1="159.4" x2="44.50" y2="163.70000000000002" stroke="#000" stroke-width="1"/>
<line x1="121.64" y1="159.4" x2="121.64" y2="163.70000000000002" stroke="#000" stroke-width="1"/>
<line x1="198.78" y1="159.4" x2="198.78" y2="163.70000000000002" stroke="#000" stroke-width="1"/>
<line x1="275.92" y1="159.4" x2="275.92" y2="163.70000000000002" stroke="#000" stroke-width="1"/>
<line x1="353.06" y1="159.4" x2="353.06" y2="163.70000000000002" stroke="#000" stroke-width="1"/>
<line x1="430.20" y1="159.4" x2="430.20" y2="163.70000000000002" stroke="#000" stroke-width="1"/>
<line x1="40.2" y1="159.40" x2="44.5" y2="159.40" stroke="#000" stroke-width="1"/>
<line x1="40.2" y1="125.80" x2="44.5" y2="125.80" stroke="#000" stroke-width="1"/>
<line x1="40.2" y1="92.20" x2="44.5" y2="92.20" stroke="#000" stroke-width="1"/>
<line x1="40.2" y1="58.60" x2="44.5" y2="58.60" stroke="#000" stroke-width="1"/>
<rect x="454.2" y="41.8" width="6" height="117.60000000000001" fill="url(#cbA)" stroke="#000" stroke-width="1"/>
<rect x="44.5" y="214.9" width="385.7" height="118.1" fill="none" stroke="#000" stroke-width="1"/>
<line x1="44.50" y1="333.0" x2="44.50" y2="337.3" stroke="#000" stroke-width="1"/>
<line x1="121.64" y1="333.0" x2="121.64" y2="337.3" stroke="#000" stroke-width="1"/>
<line x1="198.78" y1="333.0" x2="198.78" y2="337.3" stroke="#000" stroke-width="1"/>
<line x1="275.92" y1="333.0" x2="275.92" y2="337.3" stroke="#000" stroke-width="1"/>
<line x1="353.06" y1="333.0" x2="353.06" y2="337.3" stroke="#000" stroke-width="1"/>
<line x1="430.20" y1="333.0" x2="430.20" y2="337.3" stroke="#000" stroke-width="1"/>
<line x1="40.2" y1="333.00" x2="44.5" y2="333.00" stroke="#000" stroke-width="1"/>
<line x1="40.2" y1="299.26" x2="44.5" y2="299.26" stroke="#000" stroke-width="1"/>
<line x1="40.2" y1="265.51" x2="44.5" y2="265.51" stroke="#000" stroke-width="1"/>
<line x1="40.2" y1="231.77" x2="44.5" y2="231.77" stroke="#000" stroke-width="1"/>
<rect x="454.2" y="214.9" width="6" height="118.1" fill="url(#cbB)" stroke="#000" stroke-width="1"/>
<rect x="44.5" y="388.5" width="385.7" height="117.80000000000001" fill="none" stroke="#000" stroke-width="1"/>
<line x1="44.50" y1="506.3" x2="44.50" y2="510.6" stroke="#000" stroke-width="1"/>
<line x1="121.64" y1="506.3" x2="121.64" y2="510.6" stroke="#000" stroke-width="1"/>
<line x1="198.78" y1="506.3" x2="198.78" y2="510.6" stroke="#000" stroke-width="1"/>
<line x1="275.92" y1="506.3" x2="275.92" y2="510.6" stroke="#000" stroke-width="1"/>
<line x1="353.06" y1="506.3" x2="353.06" y2="510.6" stroke="#000" stroke-width="1"/>
<line x1="430.20" y1="506.3" x2="430.20" y2="510.6" stroke="#000" stroke-width="1"/>
<line x1="40.2" y1="506.30" x2="44.5" y2="506.30" stroke="#000" stroke-width="1"/>
<line x1="40.2" y1="472.64" x2="44.5" y2="472.64" stroke="#000" stroke-width="1"/>
<line x1="40.2" y1="438.99" x2="44.5" y2="438.99" stroke="#000" stroke-width="1"/>
<line x1="40.2" y1="405.33" x2="44.5" y2="405.33" stroke="#000" stroke-width="1"/>
<rect x="454.2" y="388.5" width="6" height="117.80000000000001" fill="url(#cbC)" stroke="#000" stroke-width="1"/>
<rect x="44.5" y="561.6" width="385.7" height="117.89999999999998" fill="none" stroke="#000" stroke-width="1"/>
<line x1="44.50" y1="679.5" x2="44.50" y2="683.8" stroke="#000" stroke-width="1"/>
<line x1="121.64" y1="679.5" x2="121.64" y2="683.8" stroke="#000" stroke-width="1"/>
<line x1="198.78" y1="679.5" x2="198.78" y2="683.8" stroke="#000" stroke-width="1"/>
<line x1="275.92" y1="679.5" x2="275.92" y2="683.8" stroke="#000" stroke-width="1"/>
<line x1="353.06" y1="679.5" x2="353.06" y2="683.8" stroke="#000" stroke-width="1"/>
<line x1="430.20" y1="679.5" x2="430.20" y2="683.8" stroke="#000" stroke-width="1"/>
<line x1="40.2" y1="679.50" x2="44.5" y2="679.50" stroke="#000" stroke-width="1"/>
<line x1="40.2" y1="645.81" x2="44.5" y2="645.81" stroke="#000" stroke-width="1"/>
<line x1="40.2" y1="612.13" x2="44.5" y2="612.13" stroke="#000" stroke-width="1"/>
<line x1="40.2" y1="578.44" x2="44.5" y2="578.44" stroke="#000" stroke-width="1"/>
<rect x="454.2" y="561.6" width="6" height="117.89999999999998" fill="url(#cbD)" stroke="#000" stroke-width="1"/>
<line x1="460.2" y1="58.60" x2="464.5" y2="58.60" stroke="#000" stroke-width="1"/>
<line x1="460.2" y1="92.20" x2="464.5" y2="92.20" stroke="#000" stroke-width="1"/>
<line x1="460.2" y1="125.80" x2="464.5" y2="125.80" stroke="#000" stroke-width="1"/>
<line x1="460.2" y1="159.40" x2="464.5" y2="159.40" stroke="#000" stroke-width="1"/>
<line x1="460.2" y1="214.90" x2="464.5" y2="214.90" stroke="#000" stroke-width="1"/>
<line x1="460.2" y1="244.43" x2="464.5" y2="244.43" stroke="#000" stroke-width="1"/>
<line x1="460.2" y1="273.95" x2="464.5" y2="273.95" stroke="#000" stroke-width="1"/>
<line x1="460.2" y1="303.48" x2="464.5" y2="303.48" stroke="#000" stroke-width="1"/>
<line x1="460.2" y1="333.00" x2="464.5" y2="333.00" stroke="#000" stroke-width="1"/>
<line x1="460.2" y1="412.06" x2="464.5" y2="412.06" stroke="#000" stroke-width="1"/>
<line x1="460.2" y1="459.18" x2="464.5" y2="459.18" stroke="#000" stroke-width="1"/>
<line x1="460.2" y1="506.30" x2="464.5" y2="506.30" stroke="#000" stroke-width="1"/>
<line x1="460.2" y1="585.18" x2="464.5" y2="585.18" stroke="#000" stroke-width="1"/>
<line x1="460.2" y1="632.34" x2="464.5" y2="632.34" stroke="#000" stroke-width="1"/>
<line x1="460.2" y1="679.50" x2="464.5" y2="679.50" stroke="#000" stroke-width="1"/>
<text id="xt0_0" x="44.50" y="178.50" font-size="12.7" text-anchor="middle" textLength="27.80" lengthAdjust="spacingAndGlyphs">13.0</text>
<text id="xt0_1" x="121.64" y="178.50" font-size="12.7" text-anchor="middle" textLength="27.80" lengthAdjust="spacingAndGlyphs">13.2</text>
<text id="xt0_2" x="198.78" y="178.50" font-size="12.7" text-anchor="middle" textLength="27.80" lengthAdjust="spacingAndGlyphs">13.4</text>
<text id="xt0_3" x="275.92" y="178.50" font-size="12.7" text-anchor="middle" textLength="27.80" lengthAdjust="spacingAndGlyphs">13.6</text>
<text id="xt0_4" x="353.06" y="178.50" font-size="12.7" text-anchor="middle" textLength="27.80" lengthAdjust="spacingAndGlyphs">13.8</text>
<text id="xt0_5" x="430.20" y="178.50" font-size="12.7" text-anchor="middle" textLength="27.80" lengthAdjust="spacingAndGlyphs">14.0</text>
<text id="yt0_1" x="35.20" y="163.90" font-size="12.7" text-anchor="end" textLength="7.95" lengthAdjust="spacingAndGlyphs">1</text>
<text id="yt0_2" x="35.20" y="130.30" font-size="12.7" text-anchor="end" textLength="7.95" lengthAdjust="spacingAndGlyphs">2</text>
<text id="yt0_3" x="35.20" y="96.70" font-size="12.7" text-anchor="end" textLength="7.95" lengthAdjust="spacingAndGlyphs">3</text>
<text id="yt0_4" x="35.20" y="63.10" font-size="12.7" text-anchor="end" textLength="7.95" lengthAdjust="spacingAndGlyphs">4</text>
<text id="yl0" x="0" y="0" font-size="18.0" text-anchor="middle" textLength="106.50" lengthAdjust="spacingAndGlyphs" transform="translate(17.30,100.60) rotate(-90)">Height (km)</text>
<text id="xt1_0" x="44.50" y="352.10" font-size="12.7" text-anchor="middle" textLength="27.80" lengthAdjust="spacingAndGlyphs">13.0</text>
<text id="xt1_1" x="121.64" y="352.10" font-size="12.7" text-anchor="middle" textLength="27.80" lengthAdjust="spacingAndGlyphs">13.2</text>
<text id="xt1_2" x="198.78" y="352.10" font-size="12.7" text-anchor="middle" textLength="27.80" lengthAdjust="spacingAndGlyphs">13.4</text>
<text id="xt1_3" x="275.92" y="352.10" font-size="12.7" text-anchor="middle" textLength="27.80" lengthAdjust="spacingAndGlyphs">13.6</text>
<text id="xt1_4" x="353.06" y="352.10" font-size="12.7" text-anchor="middle" textLength="27.80" lengthAdjust="spacingAndGlyphs">13.8</text>
<text id="xt1_5" x="430.20" y="352.10" font-size="12.7" text-anchor="middle" textLength="27.80" lengthAdjust="spacingAndGlyphs">14.0</text>
<text id="yt1_1" x="35.20" y="337.50" font-size="12.7" text-anchor="end" textLength="7.95" lengthAdjust="spacingAndGlyphs">1</text>
<text id="yt1_2" x="35.20" y="303.76" font-size="12.7" text-anchor="end" textLength="7.95" lengthAdjust="spacingAndGlyphs">2</text>
<text id="yt1_3" x="35.20" y="270.01" font-size="12.7" text-anchor="end" textLength="7.95" lengthAdjust="spacingAndGlyphs">3</text>
<text id="yt1_4" x="35.20" y="236.27" font-size="12.7" text-anchor="end" textLength="7.95" lengthAdjust="spacingAndGlyphs">4</text>
<text id="yl1" x="0" y="0" font-size="18.0" text-anchor="middle" textLength="106.50" lengthAdjust="spacingAndGlyphs" transform="translate(17.30,273.95) rotate(-90)">Height (km)</text>
<text id="xt2_0" x="44.50" y="525.40" font-size="12.7" text-anchor="middle" textLength="27.80" lengthAdjust="spacingAndGlyphs">13.0</text>
<text id="xt2_1" x="121.64" y="525.40" font-size="12.7" text-anchor="middle" textLength="27.80" lengthAdjust="spacingAndGlyphs">13.2</text>
<text id="xt2_2" x="198.78" y="525.40" font-size="12.7" text-anchor="middle" textLength="27.80" lengthAdjust="spacingAndGlyphs">13.4</text>
<text id="xt2_3" x="275.92" y="525.40" font-size="12.7" text-anchor="middle" textLength="27.80" lengthAdjust="spacingAndGlyphs">13.6</text>
<text id="xt2_4" x="353.06" y="525.40" font-size="12.7" text-anchor="middle" textLength="27.80" lengthAdjust="spacingAndGlyphs">13.8</text>
<text id="xt2_5" x="430.20" y="525.40" font-size="12.7" text-anchor="middle" textLength="27.80" lengthAdjust="spacingAndGlyphs">14.0</text>
<text id="yt2_1" x="35.20" y="510.80" font-size="12.7" text-anchor="end" textLength="7.95" lengthAdjust="spacingAndGlyphs">1</text>
<text id="yt2_2" x="35.20" y="477.14" font-size="12.7" text-anchor="end" textLength="7.95" lengthAdjust="spacingAndGlyphs">2</text>
<text id="yt2_3" x="35.20" y="443.49" font-size="12.7" text-anchor="end" textLength="7.95" lengthAdjust="spacingAndGlyphs">3</text>
<text id="yt2_4" x="35.20" y="409.83" font-size="12.7" text-anchor="end" textLength="7.95" lengthAdjust="spacingAndGlyphs">4</text>
<text id="yl2" x="0" y="0" font-size="18.0" text-anchor="middle" textLength="106.50" lengthAdjust="spacingAndGlyphs" transform="translate(17.30,447.40) rotate(-90)">Height (km)</text>
<text id="xt3_0" x="44.50" y="698.60" font-size="12.7" text-anchor="middle" textLength="27.80" lengthAdjust="spacingAndGlyphs">13.0</text>
<text id="xt3_1" x="121.64" y="698.60" font-size="12.7" text-anchor="middle" textLength="27.80" lengthAdjust="spacingAndGlyphs">13.2</text>
<text id="xt3_2" x="198.78" y="698.60" font-size="12.7" text-anchor="middle" textLength="27.80" lengthAdjust="spacingAndGlyphs">13.4</text>
<text id="xt3_3" x="275.92" y="698.60" font-size="12.7" text-anchor="middle" textLength="27.80" lengthAdjust="spacingAndGlyphs">13.6</text>
<text id="xt3_4" x="353.06" y="698.60" font-size="12.7" text-anchor="middle" textLength="27.80" lengthAdjust="spacingAndGlyphs">13.8</text>
<text id="xt3_5" x="430.20" y="698.60" font-size="12.7" text-anchor="middle" textLength="27.80" lengthAdjust="spacingAndGlyphs">14.0</text>
<text id="yt3_1" x="35.20" y="684.00" font-size="12.7" text-anchor="end" textLength="7.95" lengthAdjust="spacingAndGlyphs">1</text>
<text id="yt3_2" x="35.20" y="650.31" font-size="12.7" text-anchor="end" textLength="7.95" lengthAdjust="spacingAndGlyphs">2</text>
<text id="yt3_3" x="35.20" y="616.63" font-size="12.7" text-anchor="end" textLength="7.95" lengthAdjust="spacingAndGlyphs">3</text>
<text id="yt3_4" x="35.20" y="582.94" font-size="12.7" text-anchor="end" textLength="7.95" lengthAdjust="spacingAndGlyphs">4</text>
<text id="yl3" x="0" y="0" font-size="18.0" text-anchor="middle" textLength="106.50" lengthAdjust="spacingAndGlyphs" transform="translate(17.30,620.55) rotate(-90)">Height (km)</text>
<text id="cb0_10" x="468.90" y="63.10" font-size="12.7" text-anchor="start" textLength="15.90" lengthAdjust="spacingAndGlyphs">10</text>
<text id="cb0_0" x="468.90" y="96.70" font-size="12.7" text-anchor="start" textLength="7.95" lengthAdjust="spacingAndGlyphs">0</text>
<text id="cb0_−10" x="468.90" y="130.30" font-size="12.7" text-anchor="start" textLength="26.40" lengthAdjust="spacingAndGlyphs">−10</text>
<text id="cb0_−20" x="468.90" y="163.90" font-size="12.7" text-anchor="start" textLength="26.40" lengthAdjust="spacingAndGlyphs">−20</text>
<text id="cb1_−5" x="468.90" y="219.40" font-size="12.7" text-anchor="start" textLength="18.45" lengthAdjust="spacingAndGlyphs">−5</text>
<text id="cb1_−10" x="468.90" y="248.93" font-size="12.7" text-anchor="start" textLength="26.40" lengthAdjust="spacingAndGlyphs">−10</text>
<text id="cb1_−15" x="468.90" y="278.45" font-size="12.7" text-anchor="start" textLength="26.40" lengthAdjust="spacingAndGlyphs">−15</text>
<text id="cb1_−20" x="468.90" y="307.98" font-size="12.7" text-anchor="start" textLength="26.40" lengthAdjust="spacingAndGlyphs">−20</text>
<text id="cb1_−25" x="468.90" y="337.50" font-size="12.7" text-anchor="start" textLength="26.40" lengthAdjust="spacingAndGlyphs">−25</text>
<text id="cb2_0.4" x="468.90" y="416.56" font-size="12.7" text-anchor="start" textLength="19.87" lengthAdjust="spacingAndGlyphs">0.4</text>
<text id="cb2_0.2" x="468.90" y="463.68" font-size="12.7" text-anchor="start" textLength="19.87" lengthAdjust="spacingAndGlyphs">0.2</text>
<text id="cb2_0.0" x="468.90" y="510.80" font-size="12.7" text-anchor="start" textLength="19.87" lengthAdjust="spacingAndGlyphs">0.0</text>
<text id="cb3_0" x="468.90" y="589.68" font-size="12.7" text-anchor="start" textLength="7.95" lengthAdjust="spacingAndGlyphs">0</text>
<text id="cb3_−1" x="468.90" y="636.84" font-size="12.7" text-anchor="start" textLength="18.45" lengthAdjust="spacingAndGlyphs">−1</text>
<text id="cb3_−2" x="468.90" y="684.00" font-size="12.7" text-anchor="start" textLength="18.45" lengthAdjust="spacingAndGlyphs">−2</text>
<text id="un0" x="456.90" y="171.70" font-size="9.9" text-anchor="middle" textLength="26.26" lengthAdjust="spacingAndGlyphs">[dBZ]</text>
<text id="un1" x="457.30" y="344.80" font-size="9.9" text-anchor="middle" textLength="20.42" lengthAdjust="spacingAndGlyphs">[dB]</text>
<text id="un2" x="457.30" y="518.60" font-size="9.9" text-anchor="middle" textLength="25.40" lengthAdjust="spacingAndGlyphs">[m/s]</text>
<text id="un3" x="457.30" y="691.80" font-size="9.9" text-anchor="middle" textLength="25.40" lengthAdjust="spacingAndGlyphs">[m/s]</text>
<text id="title" x="234.75" y="16.80" font-size="15.9" text-anchor="middle" textLength="114.99" lengthAdjust="spacingAndGlyphs">4 January 2022</text>
<text id="sub_a" x="239.15" y="33.90" font-size="15.9" text-anchor="middle" textLength="110.29" lengthAdjust="spacingAndGlyphs">(a) Reflectivity</text>
<text id="sub_b" x="237.05" y="207.20" font-size="15.9" text-anchor="middle" textLength="233.50" lengthAdjust="spacingAndGlyphs">(b) Linear Depolarization Ratio</text>
<text id="sub_c" x="237.30" y="380.60" font-size="15.9" text-anchor="middle" textLength="148.51" lengthAdjust="spacingAndGlyphs">(c) Spectrum Width</text>
<text id="sub_d" x="237.20" y="553.20" font-size="15.9" text-anchor="middle" textLength="147.71" lengthAdjust="spacingAndGlyphs">(d) Vertical Velocity</text>
<text id="time" x="237.20" y="719.60" font-size="18.0" text-anchor="middle" textLength="98.43" lengthAdjust="spacingAndGlyphs">Time (UTC)</text>
</svg></body></html>
